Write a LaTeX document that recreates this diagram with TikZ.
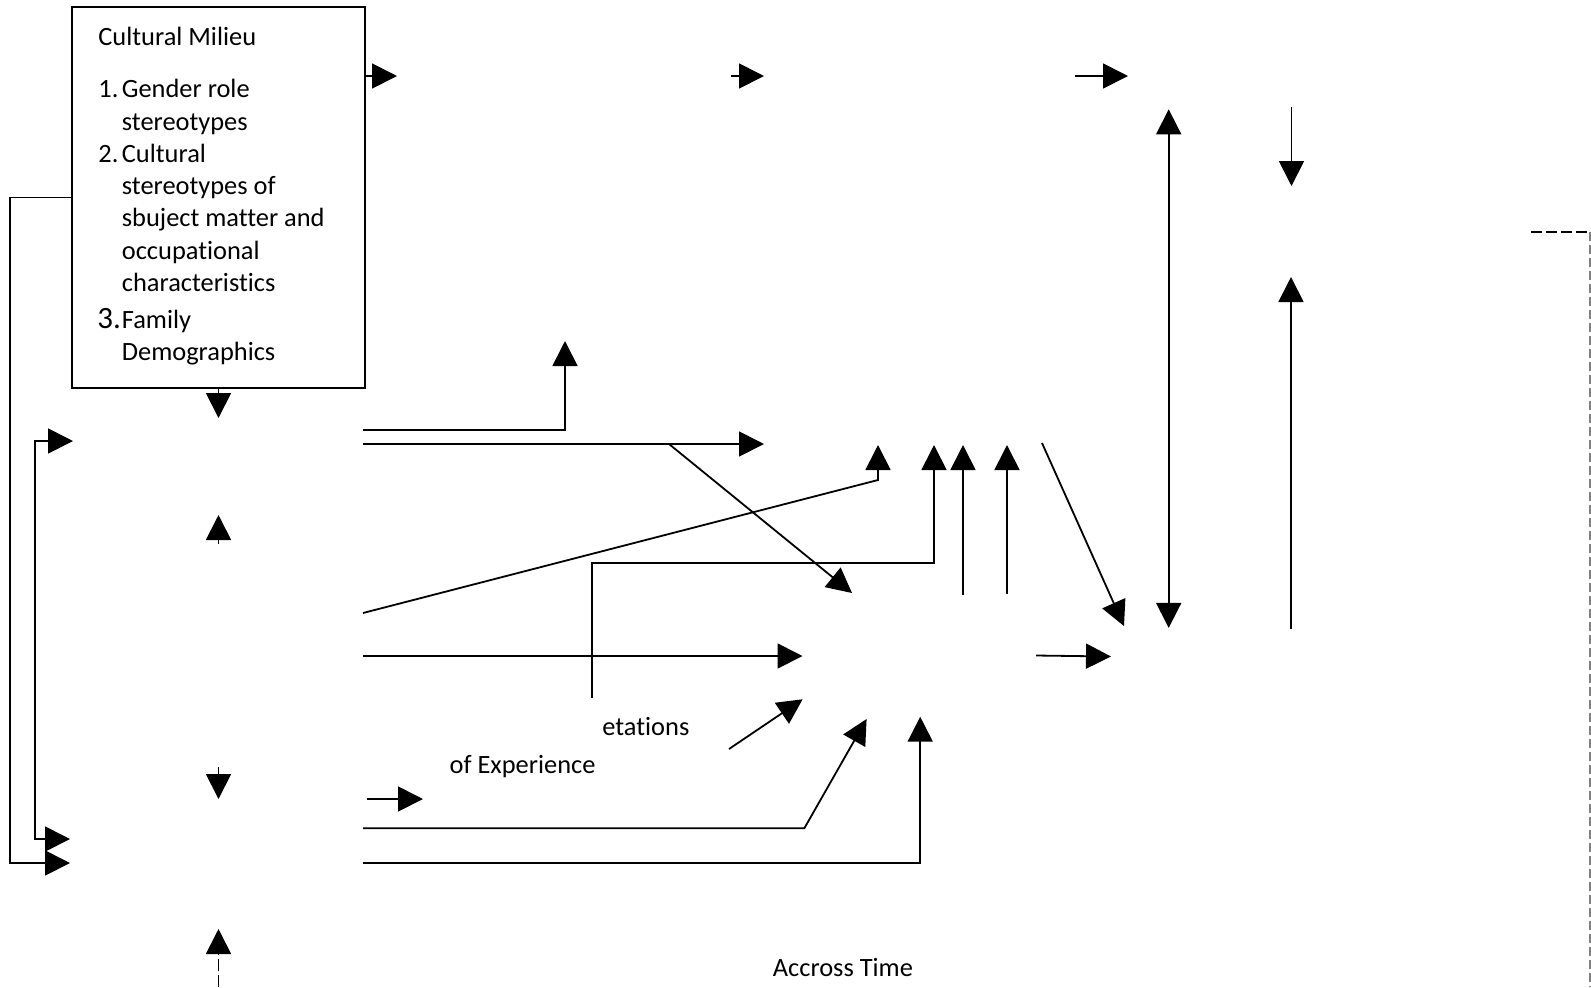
\documentclass[tikz,border=0pt]{standalone}
\usepackage{fontspec}
\setmainfont[Ligatures=NoCommon]{Carlito}
\usetikzlibrary{arrows.meta}

\tikzset{
  arr/.style={-{Triangle[length=12.5pt,width=12.5pt]}},
  arrs/.style={{Triangle[length=12.5pt,width=12.5pt]}-{Triangle[length=12.5pt,width=12.5pt]}},
  lbl/.style={inner sep=0pt,anchor=base west,font=\fontsize{13.2}{16}\selectfont},
}

\begin{document}
\begin{tikzpicture}[x=0.5pt,y=-0.5pt,line width=0.9pt]
      \useasboundingbox (0,0) rectangle (1591,987);%

      \node[draw,rectangle,inner sep=0pt,minimum width=146.5pt,minimum height=190.5pt] (CM) at (218.5,197.5) {};%

      \node[lbl] (CMt) at (97.5,45) {Cultural Milieu};%
      \node[lbl] (N1) at (97.5,97.7) {1.};%
      \node[lbl] (G1) at (121,97.7) {Gender role};%
      \node[lbl] (G2) at (121,130) {stereotypes};%
      \node[lbl] (N2) at (97.5,162.3) {2.};%
      \node[lbl] (S1) at (121,162.3) {Cultural};%
      \node[lbl] (S2) at (121,194.6) {stereotypes of};%
      \node[lbl] (S3) at (121,226.9) {sbuject matter and};%
      \node[lbl] (S4) at (121,259.2) {occupational};%
      \node[lbl] (S5) at (121,291.5) {characteristics};%
      \node[lbl,font=\fontsize{15.5}{16}\selectfont] (N3) at (96.5,328.3) {3.};%
      \node[lbl] (F1) at (121,328.3) {Family};%
      \node[lbl] (F2) at (121,360.7) {Demographics};%

      \node[lbl] (EXP) at (601.5,735) {etations};%
      \node[lbl] (OEX) at (448.7,773) {of Experience};%
      \node[lbl] (ACT) at (772,976) {Accross Time};%

      % top row
      \coordinate (T1) at (397,76);%
      \coordinate (T2a) at (731,76);%
      \coordinate (T2b) at (764,76);%
      \coordinate (T3a) at (1075,76);%
      \coordinate (T3b) at (1128,76);%
      \draw[arr] (CM.east |- T1) -- (T1);%
      \draw[arr] (T2a) -- (T2b);%
      \draw[arr] (T3a) -- (T3b);%

      % left feedback lines
      \coordinate (L1) at (70,863);%
      \coordinate (L2) at (73,441);%
      \coordinate (L3) at (70,839);%
      \draw[arr] (CM.west) -- ++(-61,0) |- (L1);%
      \draw[arrs] (L2) -- ++(-38,0) |- (L3);%

      % left column
      \coordinate (V1) at (218.5,418);%
      \coordinate (V2a) at (218.5,544);%
      \coordinate (V2b) at (218.5,515);%
      \coordinate (V3a) at (218.5,767);%
      \coordinate (V3b) at (218.5,799);%
      \coordinate (V4a) at (218.5,987);%
      \coordinate (V4b) at (218.5,929);%
      \coordinate (H1a) at (367,799);%
      \coordinate (H1b) at (423,799);%
      \draw[arr] (CM.south) -- (V1);%
      \draw[arr] (V2a) -- (V2b);%
      \draw[arr] (V3a) -- (V3b);%
      \draw[arr,dash pattern=on 6pt off 2pt] (V4a) -- (V4b);%
      \draw[arr] (H1a) -- (H1b);%

      % middle
      \coordinate (R1) at (363,430);%
      \coordinate (U1) at (565,341);%
      \coordinate (R2) at (363,444);%
      \coordinate (E2) at (764,444);%
      \coordinate (B2) at (669,444);%
      \coordinate (D2) at (852,593);%
      \coordinate (R3) at (363,613);%
      \coordinate (K3) at (878,480);%
      \coordinate (U3) at (878,445);%
      \coordinate (R4) at (592,698);%
      \coordinate (K4) at (592,563);%
      \coordinate (U4) at (934,445);%
      \coordinate (P1a) at (963,595);%
      \coordinate (P1b) at (963,445);%
      \coordinate (P2a) at (1007,594);%
      \coordinate (P2b) at (1007,445);%
      \coordinate (Q1a) at (1042,443);%
      \coordinate (Q1b) at (1124,626);%
      \draw[arr] (R1) -| (U1);%
      \draw[arr] (R2) -- (E2);%
      \draw[arr] (B2) -- (D2);%
      \draw[arr] (R3) -- (K3) -- (U3);%
      \draw[arr] (R4) -- (K4) -| (U4);%
      \draw[arr] (P1a) -- (P1b);%
      \draw[arr] (P2a) -- (P2b);%
      \draw[arr] (Q1a) -- (Q1b);%

      % lower
      \coordinate (R5) at (363,656);%
      \coordinate (E5) at (802.5,656);%
      \coordinate (S6a) at (729,749);%
      \coordinate (S6b) at (802.6,699.3);%
      \coordinate (R7) at (363,828.3);%
      \coordinate (K7) at (804.3,828.3);%
      \coordinate (U7) at (866.6,719);%
      \coordinate (R8) at (363,863.3);%
      \coordinate (U8) at (920.2,716.7);%
      \coordinate (W1a) at (1036,655.5);%
      \coordinate (W1b) at (1111,656.5);%
      \draw[arr] (R5) -- (E5);%
      \draw[arr] (S6a) -- (S6b);%
      \draw[arr] (R7) -- (K7) -- (U7);%
      \draw[arr] (R8) -| (U8);%
      \draw[arr] (W1a) -- (W1b);%

      % right
      \coordinate (D1a) at (1168.7,109.3);%
      \coordinate (D1b) at (1168.7,627.9);%
      \coordinate (X1a) at (1291.5,106.6);%
      \coordinate (X1b) at (1291.5,186);%
      \coordinate (Y1a) at (1291,629);%
      \coordinate (Y1b) at (1291,277);%
      \coordinate (Z1) at (1531,232);%
      \coordinate (Z2) at (1591,232);%
      \coordinate (Z3) at (1590,232);%
      \coordinate (Z4) at (1590,987);%
      \draw[arrs] (D1a) -- (D1b);%
      \draw[arr] (X1a) -- (X1b);%
      \draw[arr] (Y1a) -- (Y1b);%
      \draw[dash pattern=on 5.5pt off 2pt] (Z1) -- (Z2);%
      \draw[black!50,line width=0.7pt,dash pattern=on 4.5pt off 2pt] (Z3) -- (Z4);%
    \end{tikzpicture}
\end{document}
